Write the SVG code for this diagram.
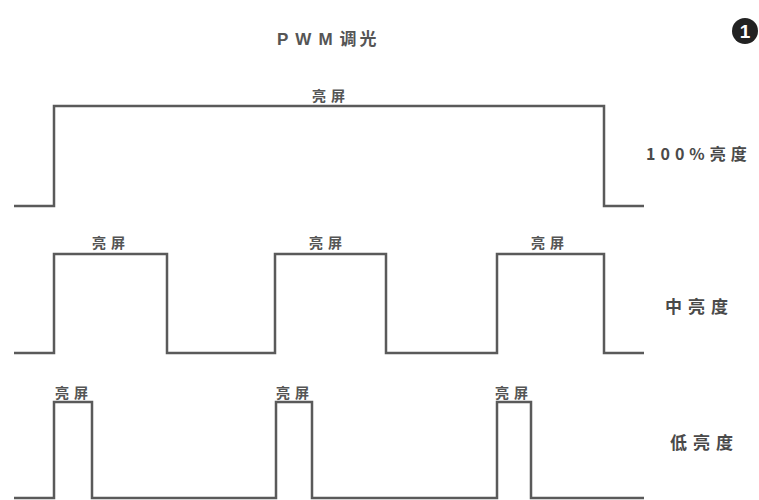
<svg xmlns="http://www.w3.org/2000/svg" width="759" height="500" viewBox="0 0 759 500">
<style>
.wave{fill:none;stroke:#5a5a5a;stroke-width:2.5;stroke-linejoin:miter}
.t{font-family:"Noto Sans CJK SC","Liberation Sans",sans-serif;fill:#4a4a4a}
.title{font-size:17px;letter-spacing:7px;font-family:"Liberation Sans","Noto Sans CJK SC",sans-serif;font-weight:bold;fill:#555}
.lab{font-size:16px;letter-spacing:6px;font-weight:bold}
.on{font-size:14px;letter-spacing:5px;font-weight:bold;text-anchor:middle;fill:#555}
</style>
<rect width="759" height="500" fill="#ffffff"/>
<g id="title"><text class="title" x="277" y="45">PWM<tspan font-family="Noto Sans CJK SC,sans-serif" letter-spacing="3">调光</tspan></text></g>
<g id="badge"><circle cx="745" cy="31" r="13" fill="#222"/><text x="745" y="38" font-family="Liberation Sans,sans-serif" font-size="19" font-weight="bold" fill="#fff" text-anchor="middle">1</text></g>
<g id="connectors">
<path class="wave" d="M14 206H54V106H604V206H644"/>
<path class="wave" d="M14 353H54V254H167V353H275V254H386V353H497V254H604V353H644"/>
<path class="wave" d="M14 498H54V402H92V498H276V402H312V498H497V402H531V498H644"/>
</g>
<g id="wave-full-labels"><text class="t on" x="331" y="101">亮屏</text></g>
<g id="wave-mid-labels">
<text class="t on" x="111" y="248">亮屏</text>
<text class="t on" x="328" y="248">亮屏</text>
<text class="t on" x="550" y="248">亮屏</text>
</g>
<g id="wave-low-labels">
<text class="t on" x="74" y="398">亮屏</text>
<text class="t on" x="295" y="398">亮屏</text>
<text class="t on" x="514" y="398">亮屏</text>
</g>
<g id="label-100"><text class="t lab" x="646" y="160" style="letter-spacing:5px">100%亮<tspan letter-spacing="0">度</tspan></text></g>
<g id="label-mid"><text class="t lab" x="665" y="313" style="font-size:17px">中亮度</text></g>
<g id="label-low"><text class="t lab" x="670" y="449" style="font-size:17px">低亮度</text></g>
</svg>
